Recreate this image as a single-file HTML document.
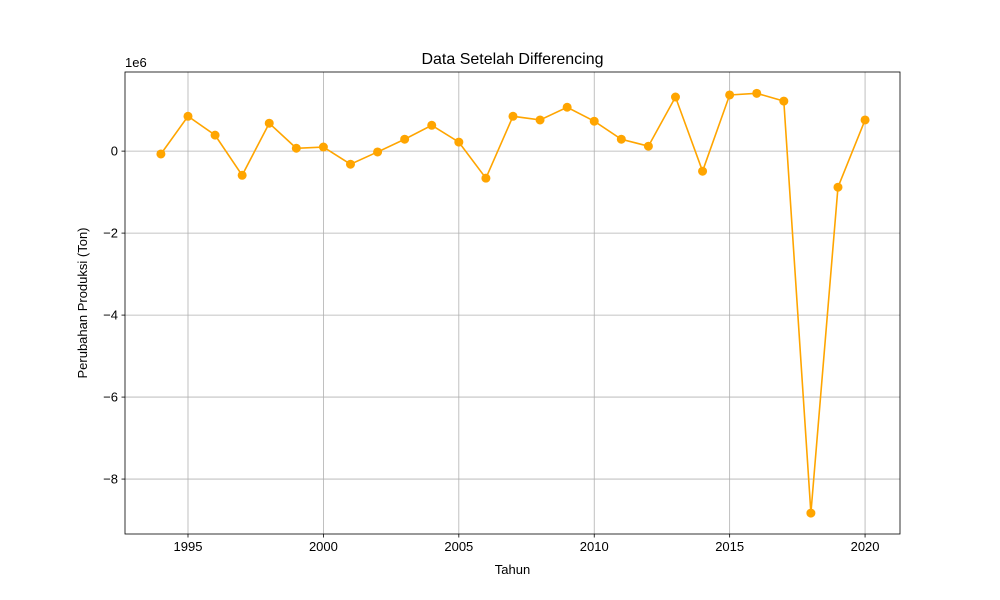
<!DOCTYPE html>
<html><head><meta charset="utf-8"><style>
body{margin:0;background:#fff;}
svg{display:block;font-family:"Liberation Sans","DejaVu Sans",sans-serif;}
</style></head><body>
<svg id="chart" width="1000" height="600"></svg>
<script>
const years=[1994,1995,1996,1997,1998,1999,2000,2001,2002,2003,2004,2005,2006,2007,2008,2009,2010,2011,2012,2013,2014,2015,2016,2017,2018,2019,2020];
const values=[-0.07,0.85,0.39,-0.59,0.68,0.07,0.10,-0.32,-0.02,0.29,0.63,0.22,-0.66,0.85,0.76,1.07,0.73,0.29,0.12,1.32,-0.49,1.37,1.41,1.22,-8.83,-0.88,0.76];
const xTicks=[1995,2000,2005,2010,2015,2020];
const yTicks=[0,-2,-4,-6,-8];
const yTickLabels=["0","\u22122","\u22124","\u22126","\u22128"];
const L=125,R=900,T=72,B=534;
const xMin=1992.674,xMax=2021.29,yMin=-9.34,yMax=1.93;
const xs=v=>L+(v-xMin)/(xMax-xMin)*(R-L);
const ys=v=>B-(v-yMin)/(yMax-yMin)*(B-T);
const svg=document.getElementById('chart');
const NS='http://www.w3.org/2000/svg';
function mk(tag,attrs,parent){const e=document.createElementNS(NS,tag);for(const k in attrs)e.setAttribute(k,attrs[k]);(parent||svg).appendChild(e);return e;}
const grid=mk('g',{});


xTicks.forEach(t=>{const x=xs(t);
 const g=mk('line',{x1:x,x2:x,y1:T,y2:B,stroke:'#b0b0b0','stroke-width':0.8},grid);
 
 
 mk('line',{x1:x,x2:x,y1:B,y2:B+3.5,stroke:'#000','stroke-width':0.8});
 const tx=mk('text',{x:x,y:B+17,'text-anchor':'middle','font-size':13});tx.textContent=t;
 
 
});
yTicks.forEach((t,i)=>{const y=ys(t);
 const g=mk('line',{x1:L,x2:R,y1:y,y2:y,stroke:'#b0b0b0','stroke-width':0.8},grid);
 
 
 mk('line',{x1:L-3.5,x2:L,y1:y,y2:y,stroke:'#000','stroke-width':0.8});
 const tx=mk('text',{x:L-7,y:y+4.5,'text-anchor':'end','font-size':13});tx.textContent=yTickLabels[i];
 
 
});
const pts=years.map((y,i)=>xs(y)+','+ys(values[i])).join(' ');
const line=mk('polyline',{points:pts,fill:'none',stroke:'#ffa500','stroke-width':1.6});


years.forEach((y,i)=>{const c=mk('circle',{cx:xs(y),cy:ys(values[i]),r:4.5,fill:'#ffa500'});
 
 
});
const frame=mk('rect',{x:L,y:T,width:R-L,height:B-T,fill:'none',stroke:'#000','stroke-width':0.8});


const off=mk('text',{x:L,y:T-5,'font-size':13});off.textContent='1e6';


const title=mk('text',{x:(L+R)/2,y:T-8,'text-anchor':'middle','font-size':16});title.textContent='Data Setelah Differencing';


const xl=mk('text',{x:(L+R)/2,y:574,'text-anchor':'middle','font-size':13});xl.textContent='Tahun';


const yl=mk('text',{x:0,y:0,'text-anchor':'middle','font-size':13,transform:'translate(87,303) rotate(-90)'});yl.textContent='Perubahan Produksi (Ton)';


</script>
</body></html>
